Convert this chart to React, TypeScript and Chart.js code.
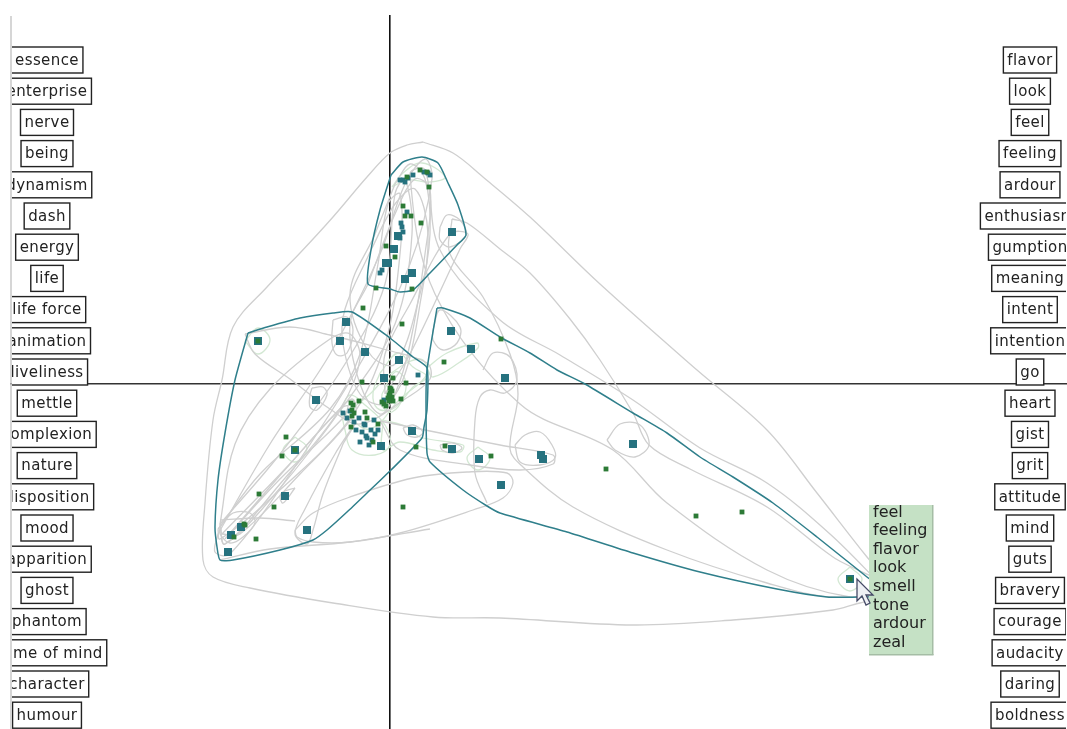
import React, { useEffect, useRef } from "react";
import { Chart, registerables } from "chart.js";

Chart.register(...registerables);

type P = [number, number];

const leftLabels = ["essence","enterprise","nerve","being","dynamism","dash","energy","life","life force","animation","liveliness","mettle","complexion","nature","disposition","mood","apparition","ghost","phantom","frame of mind","character","humour"];
const rightLabels = ["flavor","look","feel","feeling","ardour","enthusiasm","gumption","meaning","intent","intention","go","heart","gist","grit","attitude","mind","guts","bravery","courage","audacity","daring","boldness"];
const popupWords = ["feel","feeling","flavor","look","smell","tone","ardour","zeal"];

const tealLarge: P[] = [[62,152],[4,135],[-2,121],[-4,121],[22,111],[15,105],[8,148],[-44,62],[-132,43],[-50,43],[-25,32],[9,24],[61,53],[81,35],[115,6],[-6,6],[-74,-16],[-95,-66],[-105,-112],[-149,-143],[-159,-151],[-162,-168],[-83,-146],[22,-47],[62,-65],[89,-75],[111,-101],[-9,-62],[243,-60],[151,-71],[153,-75],[460,-195]];
const tealSmall: P[] = [[17,172],[11,161],[12,157],[-10,111],[13,204],[23,209],[38,211],[18,206],[15,202],[28,9],[-30,-58],[-23,-54],[-47,-29],[-31,-34],[-16,-36],[-40,-27],[-25,-41],[-34,-46],[-12,-46],[-21,-61],[-6,-16],[-15,-50],[-28,-48],[10,204],[34,212],[40,209],[-26,-40],[-19,-46],[-36,-38],[-43,-34],[-24,-52],[-18,-56],[13,152],[10,146],[-8,114]];
const greenPoints: P[] = [[13,178],[15,168],[21,168],[31,161],[-4,138],[5,127],[-14,96],[22,95],[-27,76],[12,60],[111,45],[54,22],[-28,2],[39,197],[17,207],[30,214],[37,212],[-104,-53],[-108,-72],[-131,-110],[-134,-155],[-146,-140],[-156,-153],[-116,-123],[13,-123],[26,-63],[55,-62],[101,-72],[-31,-17],[-39,-19],[-38,-26],[3,6],[16,1],[11,-15],[0,-9],[2,-13],[-2,-14],[-8,-18],[-12,-40],[-23,-34],[-17,-58],[-39,-43],[216,-85],[306,-132],[352,-128],[460,-195],[-132,43],[-95,-66],[1,-5],[-1,-11],[3,-17],[-4,-22],[-6,-20],[-38,-32],[-25,-28],[0,-4],[2,-7],[-1,-17],[-37,-21],[-36,-29],[-145,-141]];

const hullTop: P[] = [[1,209],[13,222],[32,227],[48,221],[58,201],[68,179],[76,149],[67,139],[40,111],[23,94],[10,92],[0,95],[-22,100],[-19,134],[-10,174],[1,209]];
const hullLeft: P[] = [[-142,51],[-123,57],[-90,66],[-57,71],[-38,72],[0,46],[23,27],[37,16],[37,-26],[34,-43],[32,-54],[1,-86],[-23,-109],[-43,-128],[-63,-146],[-77,-156],[-110,-166],[-157,-176],[-170,-176],[-173,-163],[-175,-143],[-172,-96],[-165,-49],[-155,4],[-142,51]];
const hullRight: P[] = [[47,76],[53,76],[80,66],[110,47],[140,31],[167,14],[195,0],[243,-29],[277,-49],[310,-73],[343,-93],[383,-119],[427,-153],[477,-193],[500,-211],[468,-213],[437,-213],[387,-205],[310,-188],[243,-169],[177,-148],[110,-129],[97,-122],[73,-106],[40,-78],[37,-69],[36,-19],[37,14],[47,76]];

const greyOuter: P[] = [[33,242],[63,231],[93,207],[140,167],[210,100],[307,14],[377,-46],[427,-109],[477,-173],[500,-200],[505,-213],[470,-219],[443,-226],[343,-236],[243,-241],[110,-234],[43,-233],[-57,-219],[-140,-204],[-177,-193],[-187,-176],[-185,-119],[-177,-36],[-168,4],[-157,57],[-123,97],[-90,131],[-57,167],[-23,207],[0,231],[17,239],[33,242]];
const greyTipA: P[] = [[495,-205],[440,-150],[377,-99],[310,-64],[243,-16],[170,29],[110,64],[50,134],[35,214],[20,210],[45,90],[130,-20],[223,-66],[277,-119],[377,-186],[460,-213],[495,-205]];
const greyTipB: P[] = [[62,165],[77,161],[110,135],[140,111],[180,65],[210,24],[243,-29],[259,-61],[300,-85],[377,-123],[443,-173],[500,-205],[443,-213],[377,-199],[277,-166],[183,-123],[133,-83],[120,-65],[128,-10],[120,30],[93,87],[60,130],[62,165]];
const greyCircle633: P[] = [[217,-56],[230,-40],[250,-41],[259,-61],[245,-73],[225,-66],[217,-56]];
const greyLens541a: P[] = [[-10,-37],[50,-49],[110,-61],[163,-71],[163,-80],[130,-86],[80,-81],[10,-66],[-10,-37]];
const greyCircle541: P[] = [[125,-61],[135,-51],[150,-48],[162,-61],[165,-74],[150,-81],[130,-78],[125,-61]];
const bundleA: P[] = [[-172,-150],[-120,-60],[-60,30],[-10,130],[15,200],[35,225],[42,205],[20,120],[-30,20],[-100,-90],[-160,-170],[-175,-168],[-172,-150]];
const bundleB: P[] = [[-170,-140],[-110,-70],[-45,20],[-5,100],[5,190],[15,205],[22,150],[5,60],[-45,-20],[-115,-110],[-165,-160],[-170,-140]];
const bundleC: P[] = [[-172,-145],[-130,-90],[-60,-25],[-30,30],[-12,120],[-2,180],[10,190],[10,130],[-5,40],[-40,-35],[-120,-115],[-170,-155],[-172,-145]];
const bundleD: P[] = [[-170,-140],[-155,-60],[-120,-5],[-60,45],[-40,50],[-30,25],[-50,-25],[-110,-100],[-165,-160],[-170,-140]];
const bundleE: P[] = [[-22,100],[-40,60],[-30,0],[-10,-30],[5,-10],[20,40],[35,130],[40,195],[25,205],[5,170],[-22,100]];
const bundleF: P[] = [[-19,134],[-45,75],[-47,40],[-30,-10],[-5,-20],[15,10],[30,80],[38,150],[25,195],[5,180],[-19,134]];
const bundleG: P[] = [[5,200],[-15,150],[-40,90],[-20,30],[5,20],[30,90],[40,150],[35,205],[20,220],[5,200]];
const bundleH: P[] = [[-165,-155],[-100,-80],[-50,-25],[-42,-22],[-48,-35],[-110,-95],[-165,-155]];
const bundleI: P[] = [[-168,-150],[-105,-85],[-55,-30],[-38,-15],[-35,-30],[-90,-90],[-150,-150],[-168,-150]];
const greyWide258: P[] = [[-145,50],[-100,57],[-60,49],[-3,34],[37,21],[40,5],[15,-15],[-30,-40],[-60,-25],[-100,5],[-135,30],[-145,50]];
const greyLower307: P[] = [[-47,-60],[-67,-110],[-77,-146],[-83,-160],[-95,-150],[-85,-125],[-55,-70],[-35,-40],[-47,-60]];
const greyLens501: P[] = [[-95,-146],[-77,-129],[-40,-113],[23,-94],[77,-88],[117,-89],[123,-99],[113,-114],[83,-126],[10,-149],[-40,-158],[-77,-158],[-93,-153],[-95,-146]];
const greyBottom: P[] = [[-170,-176],[-120,-165],[-40,-158],[40,-145]];
const greyFlat: P[] = [[-170,-136],[-130,-134],[-95,-137]];
const greyRight505: P[] = [[93,14],[103,31],[120,27],[127,4],[115,-9],[100,-6],[90,-13],[85,-36],[85,-89],[97,-119]];
const greyMid452: P[] = [[-5,-10],[20,30],[70,135],[78,150],[60,150],[20,80],[-5,30],[-5,-10]];
const grey452: P[] = [[50,157],[57,169],[70,164],[76,149],[60,137],[50,144],[50,157]];
const grey451: P[] = [[43,54],[50,74],[70,57],[67,41],[53,34],[43,44],[43,54]];
const grey346: P[] = [[-57,64],[-58,41],[-53,29],[-43,31],[-37,54],[-43,67],[-57,64]];
const grey316: P[] = [[-78,-4],[-67,-3],[-63,-11],[-73,-26],[-80,-23],[-80,-11],[-78,-4]];
const grey285: P[] = [[-95,-104],[-107,-119],[-110,-113],[-107,-108],[-95,-104]];
const grey241: P[] = [[-170,-143],[-157,-129],[-140,-129],[-135,-139],[-147,-153],[-160,-159],[-170,-150],[-170,-143]];
const grey412: P[] = [[13,-44],[23,-41],[33,-48],[27,-53],[17,-51],[13,-44]];
const grey452b: P[] = [[50,-61],[63,-59],[72,-64],[63,-69],[52,-66],[50,-61]];

const softLens1: P[] = [[2,197],[13,211],[32,221],[55,207],[40,202],[17,204],[2,197]];
const softCircle258: P[] = [[-145,43],[-132,56],[-120,44],[-132,30],[-145,43]];
const softLens471: P[] = [[37,16],[57,31],[87,41],[88,36],[70,22],[43,7],[37,16]];
const softBlob: P[] = [[-10,11],[8,31],[23,17],[37,7],[23,-3],[10,-19],[0,-26],[-13,-24],[-17,-9],[-10,11]];
const softBlobB: P[] = [[-45,-30],[-20,-10],[0,10],[30,25],[37,10],[10,-15],[-20,-45],[-45,-30]];
const softBlobC: P[] = [[-8,-10],[5,12],[15,5],[14,-12],[2,-28],[-8,-22],[-8,-10]];
const softLens433: P[] = [[-7,-36],[17,-43],[30,-53],[73,-61],[70,-68],[43,-66],[10,-58],[-7,-66],[-7,-36]];
const softCircle479: P[] = [[88,-63],[100,-74],[88,-86],[77,-74],[88,-63]];
const softCircle295: P[] = [[-95,-53],[-83,-64],[-95,-78],[-107,-66],[-95,-53]];
const softCircle850: P[] = [[460,-183],[472,-195],[460,-207],[448,-195],[460,-183]];
const softCluster: P[] = [[-49,-26],[-40,-11],[-25,-21],[-5,-41],[0,-61],[-15,-71],[-38,-66],[-45,-46],[-49,-26]];

const greyLoops = [greyOuter, greyTipA, greyTipB, greyCircle633, greyLens541a, greyCircle541, bundleA, bundleB, bundleC, bundleD, bundleE, bundleF, bundleG, bundleH, bundleI, greyWide258, greyLower307, greyLens501, greyBottom, greyFlat, greyRight505, greyMid452, grey452, grey451, grey346, grey316, grey285, grey241, grey412, grey452b];
const softLoops = [softLens1, softCircle258, softLens471, softBlob, softBlobB, softBlobC, softLens433, softCircle479, softCircle295, softCircle850, softCluster];
const hulls = [hullTop, hullLeft, hullRight];

const TEAL = "#26727f";
const GREEN = "#2c7a36";
const FONT = '15px "DejaVu Sans"';

const asXY = (rows: P[]) => rows.map(([x, y]) => ({ x, y }));
const curve = (rows: P[], color: string, width: number, tension: number) => ({
  data: asXY(rows), showLine: true, borderColor: color, borderWidth: width, tension,
  pointRadius: 0, fill: false, borderJoinStyle: "round" as const,
});
const dots = (rows: P[], color: string, radius: number) => ({
  data: asXY(rows), showLine: false, pointStyle: "rect" as const, pointRadius: radius,
  pointBackgroundColor: color, pointBorderColor: color, pointBorderWidth: 0,
});

const overlay = {
  id: "overlay",
  afterDraw(chart: Chart) {
    const { ctx, chartArea: a } = chart;
    ctx.save();
    ctx.strokeStyle = "#c8c8c8";
    ctx.lineWidth = 1.5;
    ctx.beginPath();
    ctx.moveTo(a.left, a.top);
    ctx.lineTo(a.left, a.bottom);
    ctx.stroke();

    ctx.beginPath();
    ctx.rect(a.left + 1, 0, a.right - a.left - 2, a.bottom);
    ctx.clip();
    ctx.font = FONT;
    (ctx as any).letterSpacing = "0.4px";
    ctx.textAlign = "center";
    ctx.textBaseline = "middle";
    const drawColumn = (labels: string[], cx: number) => {
      labels.forEach((label, i) => {
        const cy = 60 + 31.2 * i;
        const w = ctx.measureText(label).width + 8;
        ctx.fillStyle = "#fff";
        ctx.fillRect(cx - w / 2, cy - 13, w, 26);
        ctx.strokeStyle = "#222";
        ctx.lineWidth = 1.4;
        ctx.strokeRect(cx - w / 2, cy - 13, w, 26);
        ctx.fillStyle = "#222";
        ctx.fillText(label, cx, cy + 1);
      });
    };
    drawColumn(leftLabels, 47);
    drawColumn(rightLabels, 1030);
    (ctx as any).letterSpacing = "0px";

    ctx.fillStyle = "#c5e1c5";
    ctx.fillRect(869, 505, 64, 150);
    ctx.fillStyle = "#a5bda5";
    ctx.fillRect(932, 505, 1.5, 150);
    ctx.fillRect(869, 654, 64.5, 1.5);
    ctx.font = '16px "DejaVu Sans"';
    ctx.fillStyle = "#222";
    ctx.textAlign = "left";
    popupWords.forEach((word, i) => ctx.fillText(word, 873, 512.5 + 18.6 * i));

    ctx.beginPath();
    ctx.moveTo(857, 579);
    ctx.lineTo(857, 601);
    ctx.lineTo(862, 596);
    ctx.lineTo(866, 605);
    ctx.lineTo(870, 603);
    ctx.lineTo(866, 595);
    ctx.lineTo(873, 595);
    ctx.closePath();
    ctx.fillStyle = "#eef0f4";
    ctx.fill();
    ctx.strokeStyle = "#454a66";
    ctx.lineWidth = 1.3;
    ctx.stroke();
    ctx.restore();
  },
};

export default function App() {
  const ref = useRef<HTMLCanvasElement>(null);
  useEffect(() => {
    document.body.style.margin = "0";
    const chart = new Chart(ref.current!, {
      type: "scatter",
      data: {
        datasets: [
          dots(greenPoints, GREEN, 3.4),
          dots(tealSmall, TEAL, 3.4),
          dots(tealLarge, TEAL, 5.7),
          ...hulls.map((h) => curve(h, "#2f7f8b", 1.5, 0.2)),
          ...greyLoops.map((g) => curve(g, "#cfcfcf", 1.3, 0.35)),
          ...softLoops.map((g) => curve(g, "#d3e8d3", 1.3, 0.4)),
        ] as any,
      },
      options: {
        animation: false,
        responsive: false,
        events: [],
        layout: { autoPadding: false, padding: { left: 11, top: 16, right: 0, bottom: 0 } },
        plugins: { legend: { display: false }, tooltip: { enabled: false } },
        scales: {
          x: {
            type: "linear", min: -379, max: 677, position: { y: 0 } as any,
            grid: { display: false }, ticks: { display: false },
            border: { display: true, color: "#333", width: 1.6 },
          },
          y: {
            type: "linear", min: -345, max: 368, position: { x: 0 } as any,
            grid: { display: false }, ticks: { display: false },
            border: { display: true, color: "#111", width: 1.6 },
          },
        },
      },
      plugins: [overlay],
    });
    return () => chart.destroy();
  }, []);
  return <canvas ref={ref} width={1067} height={729} style={{ display: "block", position: "absolute", left: 0, top: 0, background: "#fff" }} />;
}
